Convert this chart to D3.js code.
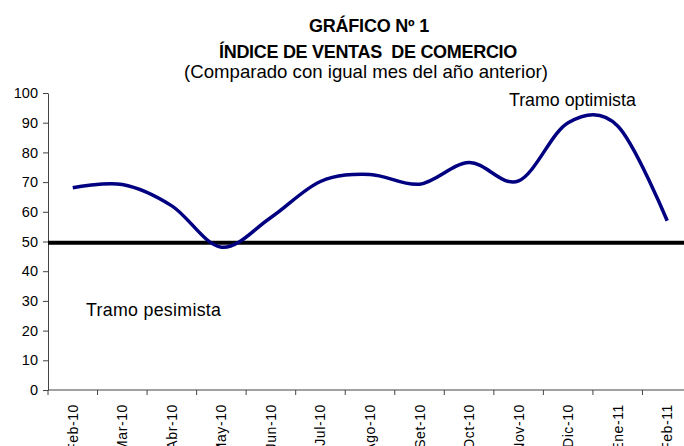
<!DOCTYPE html>
<html>
<head>
<meta charset="utf-8">
<script src="https://cdn.jsdelivr.net/npm/d3@7"></script>
<style>
	body { margin: 0; background: #fff; }
	text { font-family: "Liberation Sans", Arial, sans-serif; }
</style>
</head>
<body>
<svg width="684" height="446"></svg>
<script>
// Data
var months = ["Feb-10", "Mar-10", "Abr-10", "May-10", "Jun-10", "Jul-10", "Ago-10",
	"Set-10", "Oct-10", "Nov-10", "Dic-10", "Ene-11", "Feb-11"];
var index = [68.1, 69.2, 62.0, 48.1, 58.1, 70.2, 72.6, 69.3, 76.6, 70.4, 90.0, 88.9, 57.0];
var yTicks = [0, 10, 20, 30, 40, 50, 60, 70, 80, 90, 100];
var threshold = 49.6;

var svg = d3.select("svg");

// Scales (plot runs a bit past the right edge, as in the picture)
var xScale = d3.scaleBand().domain(months).range([48, 692]).padding(0),
	yScale = d3.scaleLinear().domain([0, 100]).range([390, 93]);

// Titles
svg.append("text").attr("x", 369).attr("y", 32).attr("text-anchor", "middle")
	.attr("font-size", 18).attr("font-weight", "bold").attr("letter-spacing", -0.2)
	.text("GRÁFICO Nº 1");
svg.append("text").attr("x", 368).attr("y", 58).attr("text-anchor", "middle")
	.attr("font-size", 18).attr("font-weight", "bold").attr("letter-spacing", -0.3)
	.attr("xml:space", "preserve")
	.text("ÍNDICE DE VENTAS  DE COMERCIO");
svg.append("text").attr("x", 366).attr("y", 78).attr("text-anchor", "middle")
	.attr("font-size", 18.6)
	.text("(Comparado con igual mes del año anterior)");

// Y axis
var yAxis = svg.append("g")
	.attr("transform", "translate(48,0)")
	.call(d3.axisLeft(yScale).tickValues(yTicks).tickSize(5).tickSizeOuter(0).tickPadding(5));
yAxis.selectAll("text").attr("font-size", 14.5).attr("fill", "#000")
	.style("font-family", "'Liberation Sans', Arial, sans-serif");
yAxis.selectAll("line, path").attr("stroke", "#444");

// X axis with ticks at band edges
var xAxis = svg.append("g")
	.attr("transform", "translate(0,390)");
xAxis.append("line").attr("x1", 48).attr("x2", 684).attr("stroke", "#444");
xAxis.selectAll(".tk")
	.data(months)
	.enter().append("line")
	.attr("class", "tk")
	.attr("x1", d => xScale(d)).attr("x2", d => xScale(d))
	.attr("y1", 0).attr("y2", 5)
	.attr("stroke", "#444");
xAxis.selectAll(".lbl")
	.data(months)
	.enter().append("text")
	.attr("class", "lbl")
	.attr("transform", d => "translate(" + (xScale(d) + xScale.bandwidth() / 2 + 5) + ",14) rotate(-90)")
	.attr("text-anchor", "end")
	.attr("font-size", 14)
	.attr("letter-spacing", 0.6)
	.text(d => d);

// Threshold line
svg.append("line")
	.attr("x1", 48).attr("x2", 684)
	.attr("y1", yScale(threshold)).attr("y2", yScale(threshold))
	.attr("stroke", "#000").attr("stroke-width", 4);

// Smoothed index line
var line = d3.line()
	.x((d, i) => xScale(months[i]) + xScale.bandwidth() / 2)
	.y(d => yScale(d))
	.curve(d3.curveCardinal.tension(0));
svg.append("path")
	.datum(index)
	.attr("d", line)
	.attr("fill", "none")
	.attr("stroke", "#000080")
	.attr("stroke-width", 3.5);

// Annotations
svg.append("text").attr("x", 509).attr("y", 106).attr("font-size", 17.8).text("Tramo optimista");
svg.append("text").attr("x", 86).attr("y", 316).attr("font-size", 17.8).attr("letter-spacing", 0.3).text("Tramo pesimista");
</script>
</body>
</html>
